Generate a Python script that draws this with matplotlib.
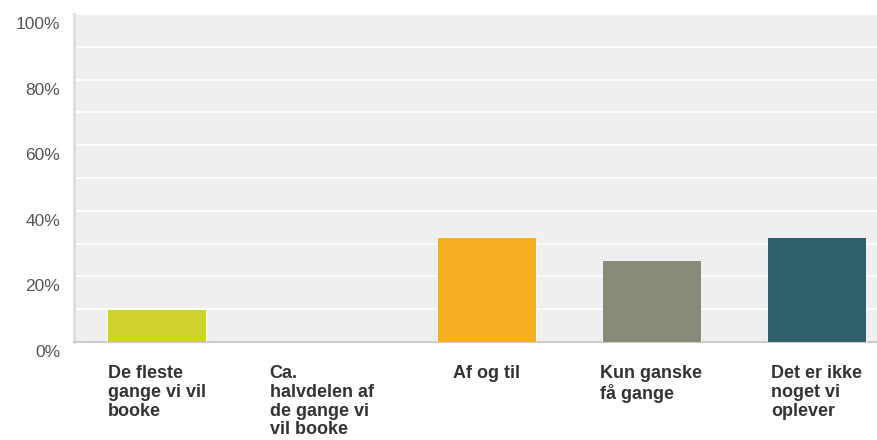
import matplotlib
matplotlib.use("Agg")
import matplotlib.pyplot as plt
import matplotlib.transforms as mtransforms

categories = ["De fleste\ngange vi vil\nbooke",
              "Ca.\nhalvdelen af\nde gange vi\nvil booke",
              "Af og til",
              "Kun ganske\nfå gange",
              "Det er ikke\nnoget vi\noplever"]
values = [10, 0, 32, 25, 32]
colors = ["#CFD42A", "#D0D0D0", "#F6AF20", "#898A78", "#2E5F6B"]
yticks = [0, 20, 40, 60, 80, 100]
ytick_labels = ["0%", "20%", "40%", "60%", "80%", "100%"]

plt.rcParams['font.family'] = ['Liberation Sans', 'DejaVu Sans']

fig = plt.figure(figsize=(8.77, 4.40), dpi=100)
ax = fig.add_axes([74/877, 98/440, 825/877, 328/440])
ax.set_facecolor("#EFEFEF")

x = list(range(len(values)))
ax.bar(x, values, width=0.6, color=colors, edgecolor="white", linewidth=0.6, zorder=3)

ax.set_xlim(-0.5, len(values) - 0.5)
ax.set_ylim(0, 100)

for g in range(10, 101, 10):
    ax.axhline(g, color="white", lw=1.3, zorder=1)

for s in ["top", "right"]:
    ax.spines[s].set_visible(False)
ax.spines["left"].set_color("#DDDDDD")
ax.spines["left"].set_linewidth(2)
ax.spines["bottom"].set_color("#CCCCCC")
ax.spines["bottom"].set_linewidth(1.5)

ax.set_yticks(yticks)
ax.set_yticklabels(ytick_labels, fontsize=12.5, color="#555555")
ax.tick_params(axis="y", length=0, pad=10)
off = mtransforms.ScaledTranslation(0, -9/100, fig.dpi_scale_trans)
for lab in ax.get_yticklabels():
    lab.set_transform(lab.get_transform() + off)

ax.set_xticks([])
trans = ax.get_xaxis_transform()
for i, c in enumerate(categories):
    t = ax.text(i, 0, c, transform=trans, ha="center", va="top",
                multialignment="left", fontsize=13, fontweight="bold",
                color="#333333", linespacing=1.14)
    t.set_transform(trans + mtransforms.ScaledTranslation(0, -23/100, fig.dpi_scale_trans))

fig.savefig("out.png", dpi=100)
